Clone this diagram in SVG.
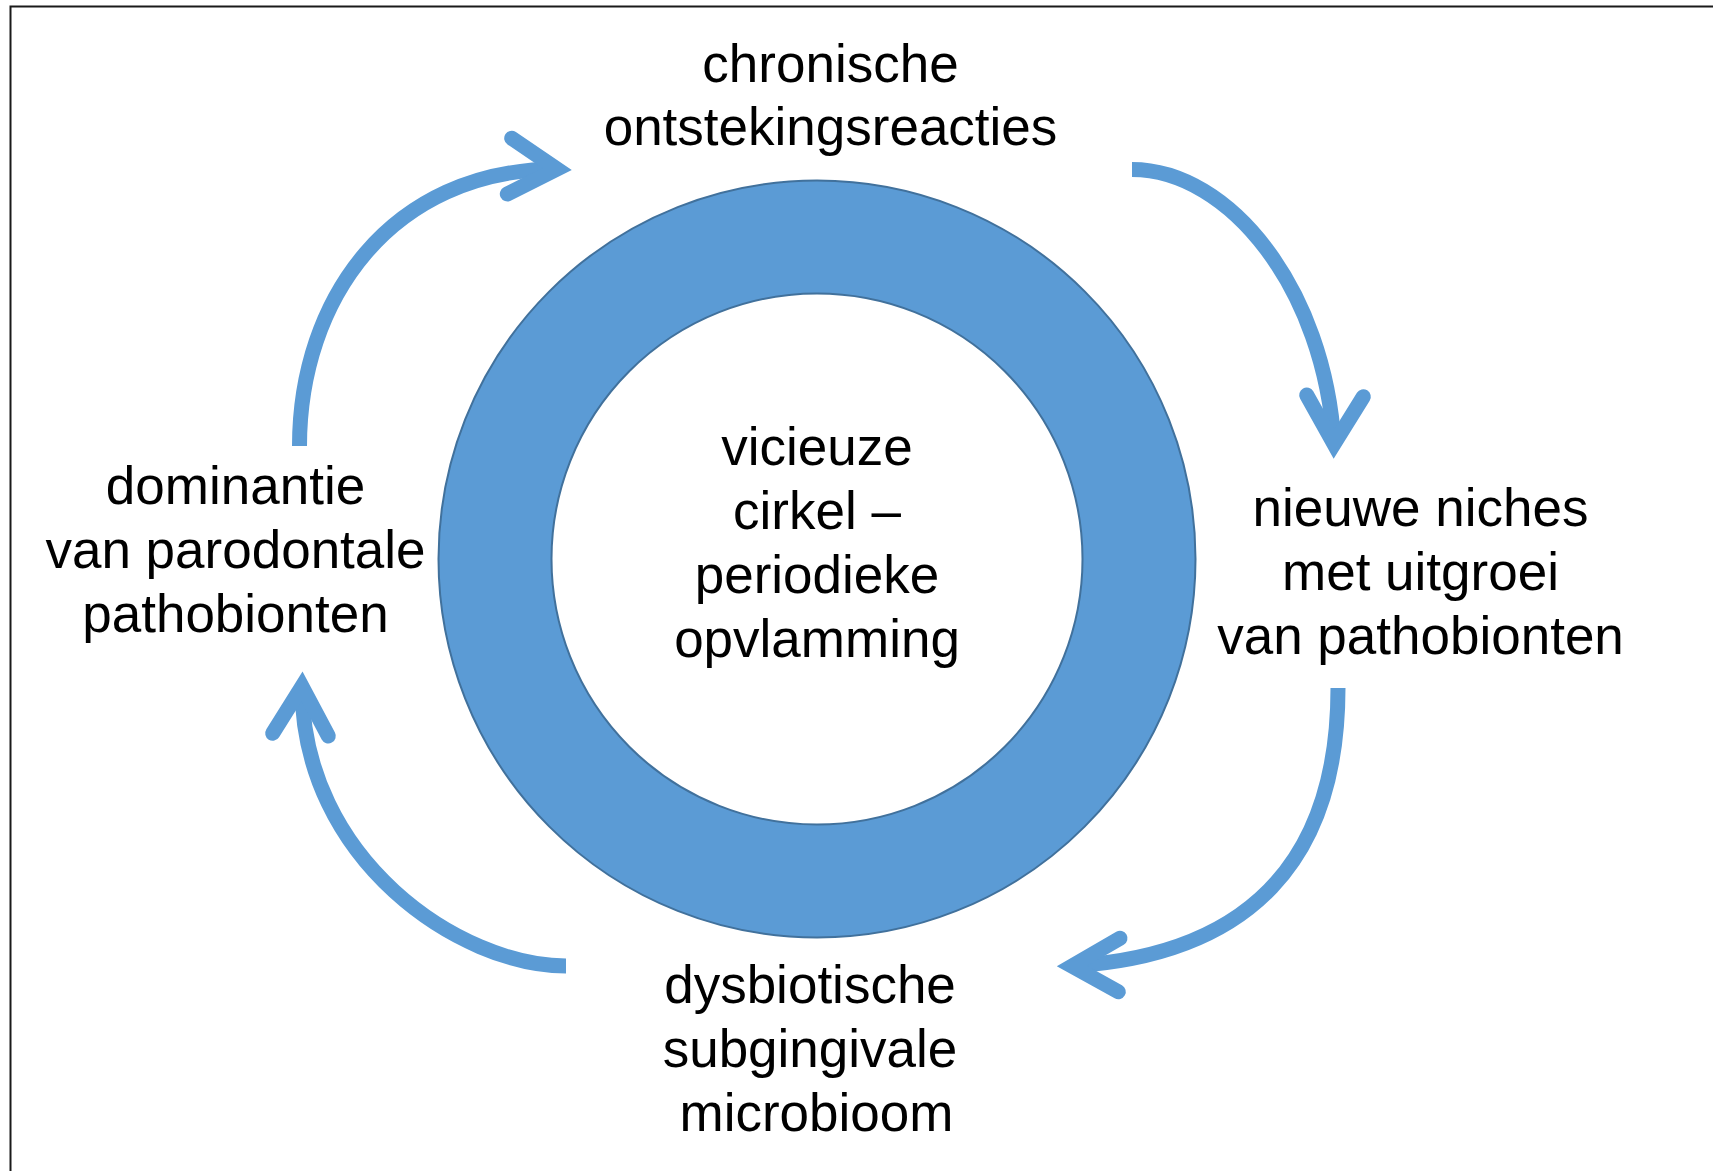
<svg xmlns="http://www.w3.org/2000/svg" width="1713" height="1171" viewBox="0 0 1713 1171">
  <style>
    .lbl { font-family: "Liberation Sans", Arial, sans-serif; font-size: 53px; fill: #000000; text-anchor: middle; }
    .shaft { fill: none; stroke: #5B9BD5; stroke-width: 15; stroke-linecap: butt; }
    .head { fill: none; stroke: #5B9BD5; stroke-width: 15; stroke-linecap: round; stroke-linejoin: miter; stroke-miterlimit: 10; }
    .ring { fill: #5B9BD5; fill-rule: evenodd; stroke: #41719C; stroke-width: 2; }
  </style>
  <rect x="0" y="0" width="1713" height="1171" fill="#FFFFFF"/>
  <rect id="frame" x="10.5" y="6.5" width="1720" height="1190" fill="none" stroke="#1a1a1a" stroke-width="2"/>

  <g id="ring-node">
    <path class="ring" d="M 438.5,559 A 378.5,378.5 0 1,0 1195.5,559 A 378.5,378.5 0 1,0 438.5,559 Z M 551.5,559 A 265.5,265.5 0 1,0 1082.5,559 A 265.5,265.5 0 1,0 551.5,559 Z"/>
    <text class="lbl" x="817" y="465">vicieuze</text>
    <text class="lbl" x="817" y="529">cirkel –</text>
    <text class="lbl" x="817" y="593">periodieke</text>
    <text class="lbl" x="817" y="657">opvlamming</text>
  </g>

  <g id="node-top">
    <text class="lbl" x="830.5" y="81.5">chronische</text>
    <text class="lbl" x="830.5" y="145">ontstekingsreacties</text>
  </g>

  <g id="node-right">
    <text class="lbl" x="1420.5" y="525.5">nieuwe niches</text>
    <text class="lbl" x="1420.5" y="589.5">met uitgroei</text>
    <text class="lbl" x="1420.5" y="653.5">van pathobionten</text>
  </g>

  <g id="node-bottom">
    <text class="lbl" x="810" y="1003">dysbiotische</text>
    <text class="lbl" x="810" y="1067">subgingivale</text>
    <text class="lbl" x="816.5" y="1131">microbioom</text>
  </g>

  <g id="node-left">
    <text class="lbl" x="235.5" y="503.5">dominantie</text>
    <text class="lbl" x="235.5" y="567.5">van parodontale</text>
    <text class="lbl" x="235.5" y="631.5">pathobionten</text>
  </g>

  <g id="connectors">
    <g id="arrow-left-top">
      <path class="shaft" d="M 299.5,446 C 299.5,300 390,170 557,169"/>
      <polyline class="head" points="511.7,138.3 557,169 507.3,194"/>
    </g>
    <g id="arrow-top-right">
      <path class="shaft" d="M 1132,169.5 C 1230,169.5 1325,290 1334,444"/>
      <polyline class="head" points="1306.7,395 1334,444 1363.3,396.7"/>
    </g>
    <g id="arrow-right-bottom">
      <path class="shaft" d="M 1338,688 C 1338,860 1250,955 1072,966"/>
      <polyline class="head" points="1120,938.3 1072,966 1118.3,991.7"/>
    </g>
    <g id="arrow-bottom-left">
      <path class="shaft" d="M 566,966 C 460,966 302,860 302,686.5"/>
      <polyline class="head" points="272.7,733.3 302,686.5 328.3,736"/>
    </g>
  </g>
</svg>
